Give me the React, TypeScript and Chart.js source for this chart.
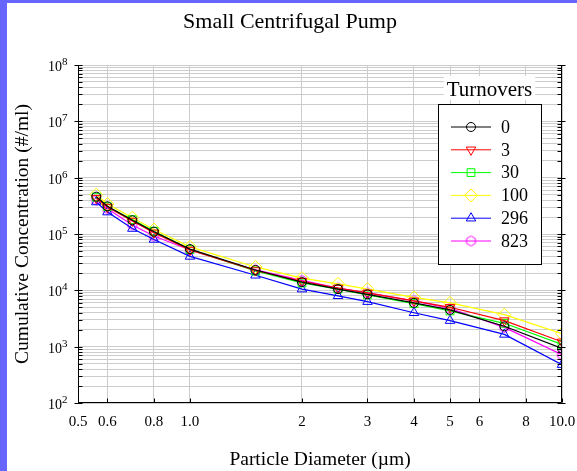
import React, { useEffect, useRef } from 'react';
import { Chart, registerables } from 'chart.js';
import { drawPoint } from 'chart.js/helpers';

Chart.register(...registerables);

const FONT = '"Liberation Serif", "Times New Roman", serif';

const diameters = [0.56, 0.6, 0.7, 0.8, 1.0, 1.5, 2, 2.5, 3, 4, 5, 7, 10];
const turnoverLabels = ['0', '3', '30', '100', '296', '823'];

const t0 = [460000, 310000, 175000, 110000, 54000, 23000, 14000, 10500, 8500, 6000, 4500, 2300, 930];
const t3 = [430000, 300000, 170000, 105000, 52000, 22500, 14500, 11000, 9000, 6500, 5000, 2900, 1220];
const t30 = [450000, 305000, 180000, 112000, 53000, 22000, 13500, 10500, 8300, 5800, 4300, 2600, 1100];
const t100 = [500000, 340000, 195000, 120000, 59000, 26000, 16500, 13000, 10500, 7500, 6000, 3700, 1700];
const t296 = [370000, 245000, 125000, 80000, 40000, 18500, 10500, 8000, 6300, 4000, 2900, 1650, 480];
const t823 = [400000, 280000, 145000, 92000, 52000, 23000, 15000, 11000, 9000, 6500, 4800, 2200, 720];

const xTickValues = [0.5, 0.6, 0.8, 1, 2, 3, 4, 5, 6, 8, 10];
const xTickLabels = ['0.5', '0.6', '0.8', '1.0', '2', '3', '4', '5', '6', '8', '10.0'];
const yDecadeExponents = [2, 3, 4, 5, 6, 7, 8];

const yTickValues: number[] = [];
for (const e of yDecadeExponents) {
  if (e === 8) { yTickValues.push(1e8); continue; }
  for (let m = 1; m <= 9; m++) yTickValues.push(m * Math.pow(10, e));
}

function makeHexagon(color: string) {
  const c = document.createElement('canvas');
  c.width = 13; c.height = 13;
  const g = c.getContext('2d')!;
  g.strokeStyle = color;
  g.lineWidth = 1;
  g.beginPath();
  const r = 5;
  for (let i = 0; i < 6; i++) {
    const a = Math.PI / 6 + i * Math.PI / 3;
    const px = 6.5 + r * Math.cos(a);
    const py = 6.5 + r * Math.sin(a);
    if (i === 0) g.moveTo(px, py); else g.lineTo(px, py);
  }
  g.closePath();
  g.stroke();
  return c;
}

const isDecade = (v: number) => Math.abs(Math.log10(v) - Math.round(Math.log10(v))) < 1e-9;

const framePlugin = {
  id: 'frame',
  beforeDraw(chart: any) {
    const ctx = chart.ctx;
    ctx.save();
    ctx.fillStyle = '#6666ff';
    ctx.fillRect(0, 0, chart.width, chart.height);
    ctx.fillStyle = '#ffffff';
    ctx.fillRect(7, 3, chart.width - 7, chart.height - 3);
    ctx.restore();
  },
  afterDraw(chart: any) {
    const ctx = chart.ctx;
    const a = chart.chartArea;
    const ys = chart.scales.y;
    const xs = chart.scales.x;
    ctx.save();
    ctx.strokeStyle = '#000';
    ctx.lineWidth = 1;
    const L = Math.round(a.left) + 0.5;
    const R = Math.round(a.right) - 0.5;
    const B = Math.round(a.bottom) - 0.5;
    const T = Math.round(a.top);
    ctx.beginPath();
    ctx.moveTo(L, T); ctx.lineTo(L, B); ctx.lineTo(R, B); ctx.lineTo(R, T);
    ctx.stroke();
    // y ticks
    ctx.beginPath();
    for (const v of yTickValues) {
      const py = Math.round(ys.getPixelForValue(v)) + 0.5;
      const major = isDecade(v);
      ctx.moveTo(L - (major ? 4 : 0), py); ctx.lineTo(L + 4, py);
      ctx.moveTo(R + (major ? 4 : 0), py); ctx.lineTo(R - 4, py);
    }
    // x ticks
    for (const v of xTickValues) {
      const px = Math.round(xs.getPixelForValue(v)) + 0.5;
      ctx.moveTo(px, B); ctx.lineTo(px, B - 4);
    }
    ctx.stroke();

    // x tick labels
    ctx.fillStyle = '#000';
    ctx.font = `15px ${FONT}`;
    ctx.textAlign = 'center';
    ctx.textBaseline = 'alphabetic';
    xTickValues.forEach((v, i) => {
      ctx.fillText(xTickLabels[i], xs.getPixelForValue(v), a.bottom + 23);
    });

    // y tick labels
    for (const e of yDecadeExponents) {
      const py = ys.getPixelForValue(Math.pow(10, e));
      ctx.font = `14px ${FONT}`;
      ctx.textAlign = 'right';
      ctx.fillText('10', 62, py + 6);
      ctx.font = `11px ${FONT}`;
      ctx.textAlign = 'left';
      ctx.fillText(String(e), 62, py);
    }

    // chart title
    ctx.textAlign = 'center';
    ctx.font = `22px ${FONT}`;
    ctx.fillText('Small Centrifugal Pump', 290, 28);

    // x title
    ctx.font = `19.5px ${FONT}`;
    ctx.fillText('Particle Diameter (\u00b5m)', (a.left + a.right) / 2, 465);

    // y title
    ctx.save();
    ctx.translate(28, (a.top + a.bottom) / 2);
    ctx.rotate(-Math.PI / 2);
    ctx.fillText('Cumulative Concentration (#/ml)', 0, 0);
    ctx.restore();

    // legend
    const bx = 438, by = 104, bw = 103, bh = 160;
    ctx.font = `21px ${FONT}`;
    const tw = ctx.measureText('Turnovers').width;
    ctx.fillStyle = '#fff';
    ctx.fillRect(bx + bw / 2 - tw / 2 - 3, 76, tw + 6, 24);
    ctx.fillRect(bx, by, bw, bh);
    ctx.fillStyle = '#000';
    ctx.textAlign = 'center';
    ctx.fillText('Turnovers', bx + bw / 2, 96);
    ctx.strokeStyle = '#000';
    ctx.lineWidth = 1;
    ctx.strokeRect(bx + 0.5, by + 0.5, bw, bh);
    ctx.font = `18px ${FONT}`;
    ctx.textAlign = 'left';
    ctx.textBaseline = 'middle';
    chart.data.datasets.forEach((ds: any, i: number) => {
      const yy = 127 + i * 22.8;
      ctx.strokeStyle = ds.borderColor;
      ctx.lineWidth = 1;
      ctx.beginPath();
      ctx.moveTo(451, yy); ctx.lineTo(491, yy);
      ctx.stroke();
      ctx.fillStyle = 'rgba(0,0,0,0)';
      drawPoint(ctx, {
        pointStyle: ds.pointStyle,
        rotation: ds.pointRotation || 0,
        radius: ds.pointRadius,
        borderWidth: 1,
      } as any, 471, yy);
      ctx.fillStyle = '#000';
      ctx.fillText(ds.label, 501, yy + 1);
    });
    ctx.restore();
  },
};

export default function App() {
  const ref = useRef<HTMLCanvasElement>(null);
  useEffect(() => {
    if (!ref.current) return;
    const mk = (label: string, data: number[], color: string, pointStyle: any, radius: number, rotation = 0) => ({
      label,
      data: diameters.map((x, i) => ({ x, y: data[i] })),
      borderColor: color,
      backgroundColor: 'rgba(0,0,0,0)',
      pointBorderColor: color,
      pointBackgroundColor: 'rgba(0,0,0,0)',
      borderWidth: 1.2,
      pointBorderWidth: 1,
      pointStyle,
      pointRadius: radius,
      pointRotation: rotation,
      pointHoverRadius: radius,
      tension: 0,
    });
    const chart = new Chart(ref.current, {
      type: 'line',
      data: {
        datasets: [
          mk(turnoverLabels[0], t0, '#000000', 'circle', 4.5),
          mk(turnoverLabels[1], t3, '#ff0000', 'triangle', 5.5, 180),
          mk(turnoverLabels[2], t30, '#00ff00', 'rect', 5.5),
          mk(turnoverLabels[3], t100, '#ffff00', 'rectRot', 6.5),
          mk(turnoverLabels[4], t296, '#0000ff', 'triangle', 5.5),
          mk(turnoverLabels[5], t823, '#ff00ff', makeHexagon('#ff00ff'), 5),
        ],
      },
      options: {
        responsive: false,
        animation: false,
        layout: { padding: { left: 0, top: 65, right: 15, bottom: 0 } },
        plugins: { legend: { display: false }, title: { display: false }, tooltip: { enabled: false } },
        events: [],
        scales: {
          x: {
            type: 'logarithmic',
            min: 0.5,
            max: 10,
            afterBuildTicks: (s: any) => { s.ticks = xTickValues.map((v) => ({ value: v })); },
            afterFit: (s: any) => { s.height = 68; },
            ticks: { display: false, autoSkip: false },
            grid: { color: '#cccccc', lineWidth: 1, drawTicks: false, tickLength: 0 },
            border: { display: false },
          },
          y: {
            type: 'logarithmic',
            min: 100,
            max: 1e8,
            afterBuildTicks: (s: any) => { s.ticks = yTickValues.map((v) => ({ value: v })); },
            afterFit: (s: any) => { s.width = 78; },
            ticks: { display: false, autoSkip: false },
            grid: { color: '#cccccc', lineWidth: 1, drawTicks: false, tickLength: 0 },
            border: { display: false },
          },
        },
      } as any,
      plugins: [framePlugin],
    });
    return () => chart.destroy();
  }, []);
  return (
    <div style={{ position: 'absolute', left: 0, top: 0, width: 577, height: 471 }}>
      <canvas ref={ref} width={577} height={471} style={{ display: 'block', width: 577, height: 471 }} />
    </div>
  );
}
